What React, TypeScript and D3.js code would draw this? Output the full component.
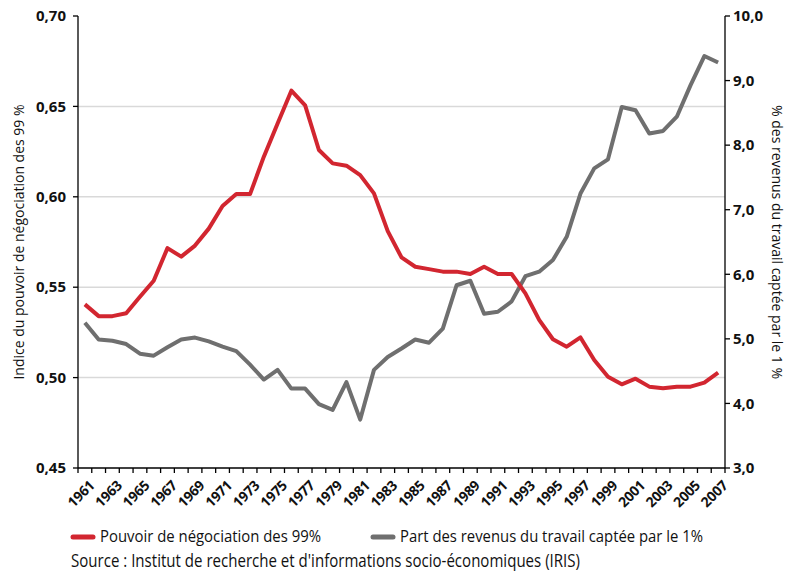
import React from 'react';
import * as d3 from 'd3';

const years: number[] = [];
for (let y = 1961; y <= 2007; y++) years.push(y);

// Indice du pouvoir de négociation des 99 % (axe gauche)
const bargaining = [
  0.5405, 0.534, 0.534, 0.5356, 0.5447, 0.5536, 0.5716, 0.5669, 0.573, 0.5824,
  0.5949, 0.6015, 0.6015, 0.6222, 0.6406, 0.6587, 0.6506, 0.6259, 0.6185, 0.6172,
  0.612, 0.6019, 0.581, 0.5665, 0.5613, 0.5600, 0.5586, 0.5586, 0.5573, 0.5613,
  0.5573, 0.5573, 0.5466, 0.5319, 0.5212, 0.5171, 0.5222, 0.5097, 0.5005, 0.4963,
  0.4994, 0.495, 0.4941, 0.495, 0.495, 0.4972, 0.5027,
];

// Part des revenus du travail captée par le 1 % (axe droit)
const topShare = [
  5.25, 4.99, 4.97, 4.92, 4.77, 4.74, 4.87, 4.99, 5.02, 4.96,
  4.88, 4.81, 4.6, 4.37, 4.52, 4.23, 4.23, 3.99, 3.9, 4.33,
  3.75, 4.52, 4.72, 4.85, 4.99, 4.94, 5.16, 5.83, 5.9, 5.39,
  5.42, 5.58, 5.97, 6.04, 6.22, 6.58, 7.25, 7.64, 7.78, 8.59,
  8.54, 8.18, 8.22, 8.44, 8.93, 9.38, 9.28,
];

const leftTicks = [0.45, 0.5, 0.55, 0.6, 0.65, 0.7];
const rightTicks = [3, 4, 5, 6, 7, 8, 9, 10];
const gridTicks = [0.5, 0.55, 0.6, 0.65];

const seriesNames = ['Pouvoir de négociation des 99%', 'Part des revenus du travail captée par le 1%'];
const colors = ['#d22630', '#6f6f6f'];

const W = 795;
const H = 573;
const margin = { left: 78, right: 70, top: 16, bottom: 105 };

export default function App() {
  const x = d3
    .scaleBand<number>()
    .domain(years)
    .range([margin.left, W - margin.right])
    .paddingInner(0)
    .paddingOuter(0);
  const yL = d3.scaleLinear().domain([0.45, 0.7]).range([H - margin.bottom, margin.top]);
  const yR = d3.scaleLinear().domain([3, 10]).range([H - margin.bottom, margin.top]);
  const cx = (yr: number) => (x(yr) as number) + x.bandwidth() / 2;

  const lineL = d3
    .line<number>()
    .x((_, i) => cx(years[i]))
    .y((d) => yL(d));
  const lineR = d3
    .line<number>()
    .x((_, i) => cx(years[i]))
    .y((d) => yR(d));

  const x0 = margin.left;
  const x1 = W - margin.right;
  const yBottom = H - margin.bottom;
  const tickFont = "'Open Sans', sans-serif";
  const legFont = "'Open Sans', sans-serif";

  // tick boundaries between categories
  const bounds = years.map((yr) => x(yr) as number).concat([x1]);

  // legend widths as measured on the original
  const legendX = [71, 371];
  const legendLen = [221, 303];

  return (
    <svg width={W} height={H} style={{ position: 'absolute', left: 0, top: 0, background: '#fff' }}>
      {/* gridlines */}
      {gridTicks.map((t) => (
        <line key={t} x1={x0} x2={x1} y1={yL(t)} y2={yL(t)} stroke="#d9d9d9" strokeWidth={1.5} />
      ))}

      {/* series */}
      <path d={lineR(topShare) || ''} fill="none" stroke={colors[1]} strokeWidth={4} strokeLinejoin="round" />
      <path d={lineL(bargaining) || ''} fill="none" stroke={colors[0]} strokeWidth={4} strokeLinejoin="round" />

      {/* left axis */}
      <line x1={x0} x2={x0} y1={margin.top} y2={yBottom} stroke="#000" strokeWidth={1.3} />
      {leftTicks.map((t) => (
        <g key={t}>
          <line x1={x0 - 5} x2={x0} y1={yL(t)} y2={yL(t)} stroke="#000" strokeWidth={1.3} />
          <text
            x={x0 - 12}
            y={yL(t)}
            dy="0.35em"
            textAnchor="end"
            fontFamily={tickFont}
            fontWeight="bold"
            fontSize={15}
            fill="#111"
          >
            {d3.format('.2f')(t).replace('.', ',')}
          </text>
        </g>
      ))}

      {/* right axis */}
      <line x1={x1} x2={x1} y1={margin.top} y2={yBottom} stroke="#000" strokeWidth={1.3} />
      {rightTicks.map((t) => (
        <g key={t}>
          <line x1={x1} x2={x1 + 5} y1={yR(t)} y2={yR(t)} stroke="#000" strokeWidth={1.3} />
          <text
            x={x1 + 8}
            y={yR(t)}
            dy="0.35em"
            textAnchor="start"
            fontFamily={tickFont}
            fontWeight="bold"
            fontSize={15}
            fill="#111"
          >
            {d3.format('.1f')(t).replace('.', ',')}
          </text>
        </g>
      ))}

      {/* bottom axis */}
      <line x1={x0} x2={x1} y1={yBottom} y2={yBottom} stroke="#000" strokeWidth={1.3} />
      {bounds.map((b, i) => (
        <line key={i} x1={b} x2={b} y1={yBottom} y2={yBottom + 5} stroke="#000" strokeWidth={1.3} />
      ))}
      {years
        .filter((yr) => (yr - 1961) % 2 === 0)
        .map((yr) => (
          <text
            key={yr}
            transform={`translate(${cx(yr) + 7},${yBottom + 15}) rotate(-45)`}
            textAnchor="end"
            dy="0.35em"
            fontFamily={tickFont}
            fontWeight="bold"
            fontSize={14}
            letterSpacing={-0.3}
            fill="#111"
          >
            {yr}
          </text>
        ))}

      {/* axis titles */}
      <text
        transform={`translate(24,${(margin.top + yBottom) / 2}) rotate(-90)`}
        textAnchor="middle"
        fontFamily={tickFont}
        fontSize={14}
        fill="#111"
      >
        Indice du pouvoir de négociation des 99 %
      </text>
      <text
        transform={`translate(772,${(margin.top + yBottom) / 2}) rotate(90)`}
        textAnchor="middle"
        fontFamily={tickFont}
        fontSize={14}
        fill="#111"
      >
        % des revenus du travail captée par le 1 %
      </text>

      {/* legend */}
      {seriesNames.map((name, i) => {
        const lx = legendX[i];
        return (
          <g key={name}>
            <line x1={lx + 2} x2={lx + 22} y1={537} y2={537} stroke={colors[i]} strokeWidth={5} strokeLinecap="round" />
            <text
              x={lx + 29}
              y={542}
              fontFamily={legFont}
              fontSize={16}
              textLength={legendLen[i]}
              lengthAdjust="spacingAndGlyphs"
              fill="#111"
            >
              {name}
            </text>
          </g>
        );
      })}

      {/* source */}
      <text
        x={71}
        y={567}
        fontFamily={legFont}
        fontSize={19}
        textLength={509}
        lengthAdjust="spacingAndGlyphs"
        fill="#111"
      >
        Source : Institut de recherche et d'informations socio-économiques (IRIS)
      </text>
    </svg>
  );
}
